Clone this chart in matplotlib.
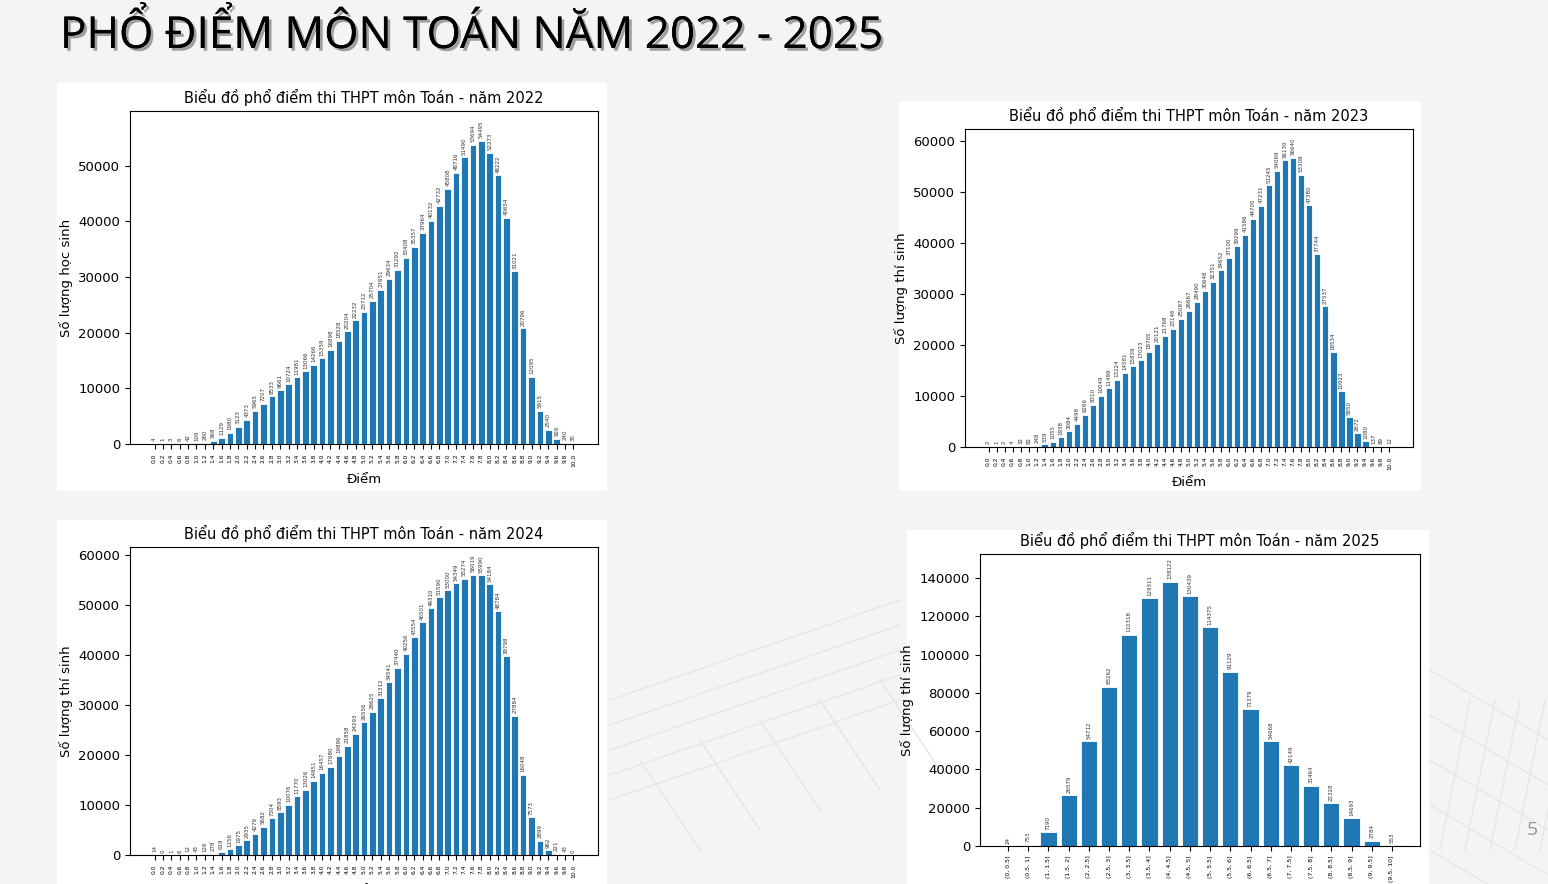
import matplotlib
matplotlib.use("Agg")
import matplotlib.pyplot as plt
import matplotlib.patheffects as pe
from matplotlib.patches import Rectangle

scores = [f"{i/5:.1f}" for i in range(51)]

v2022 = [4, 1, 3, 6, 42, 109, 260, 568, 1129, 1980, 3123, 4373, 5965, 7207, 8533, 9661,
         10724, 11981, 13066, 14266, 15359, 16898, 18528, 20204, 22232, 23712, 25704,
         27651, 29634, 31292, 33408, 35357, 37964, 40132, 42732, 45808, 48716, 51490,
         53694, 54495, 52273, 48222, 40654, 31021, 20796, 12095, 5915, 2540, 926, 240, 35]
v2023 = [2, 1, 2, 4, 32, 82, 248, 539, 1055, 1938, 3084, 4498, 6266, 8310, 10049, 11499,
         13224, 14581, 15839, 17023, 18705, 20121, 21768, 23146, 25087, 26667, 28490,
         30648, 32351, 34652, 37100, 39299, 41586, 44705, 47231, 51245, 54069, 56130,
         56640, 53308, 47380, 37744, 27537, 18534, 10923, 5850, 2672, 1080, 137, 89, 12]
v2024 = [14, 0, 1, 6, 12, 43, 126, 278, 619, 1156, 1975, 2935, 4279, 5682, 7304, 8593,
         10076, 11770, 13026, 14851, 16457, 17680, 19896, 21858, 24293, 26556, 28625,
         31312, 34541, 37440, 40256, 43554, 46501, 49310, 51590, 53000, 54349, 55274,
         56019, 55990, 54184, 48784, 39798, 27884, 16048, 7573, 2899, 962, 221, 43, 0]
bins2025 = ["(0, 0.5]", "(0.5, 1]", "(1, 1.5]", "(1.5, 2]", "(2, 2.5]", "(2.5, 3]",
            "(3, 3.5]", "(3.5, 4]", "(4, 4.5]", "(4.5, 5]", "(5, 5.5]", "(5.5, 6]",
            "(6, 6.5]", "(6.5, 7]", "(7, 7.5]", "(7.5, 8]", "(8, 8.5]", "(8.5, 9]",
            "(9, 9.5]", "(9.5, 10]"]
v2025 = [24, 753, 7190, 26579, 54712, 83262, 110318, 129311, 138122, 130439, 114375,
         91129, 71379, 54668, 42149, 31464, 22328, 14693, 2784, 553]

W, H = 1548, 884
fig = plt.figure(figsize=(W/100, H/100), dpi=100)
fig.patch.set_facecolor("#f4f4f4")

def frac(x0, y0, x1, y1):
    return [x0/W, 1-y1/H, (x1-x0)/W, (y1-y0)/H]

bg = fig.add_axes([0, 0, 1, 1], zorder=-5)
bg.set_xlim(0, W); bg.set_ylim(H, 0); bg.axis("off")
for k in range(5):
    bg.plot([610, 900], [800-k*25, 700-k*25], color="#e8e8e8", lw=1.2)
    bg.plot([640+k*60, 700+k*60], [760-k*20, 850-k*20], color="#e8e8e8", lw=1.2)
    bg.plot([1430, 1548], [670+k*45, 740+k*45], color="#e8e8e8", lw=1.2)
    bg.plot([1440+k*25, 1470+k*25], [850, 700], color="#e8e8e8", lw=1.2)

fig.text(60/W, 1-36/H, "PHỔ ĐIỂM MÔN TOÁN NĂM 2022 - 2025", fontsize=31.7,
         family="Open Sans", va="center", ha="left", color="black",
         path_effects=[pe.withSimplePatchShadow(offset=(2, -2), alpha=0.35), pe.Normal()])
fig.text(1532/W, 1-830/H, "5", fontsize=14, color="#999999", ha="center", va="center",
         family="Open Sans")

def panel(rect, axrect, cats, vals, year, ylabel, ymax, xfs, lfs):
    bg.add_patch(Rectangle((rect[0], rect[1]), rect[2]-rect[0], rect[3]-rect[1],
                           facecolor="white", edgecolor="none"))
    ax = fig.add_axes(frac(*axrect))
    x = range(len(vals))
    bars = ax.bar(x, vals, color="#1f77b4", edgecolor="white", linewidth=0.6, width=0.8)
    for b, v in zip(bars, vals):
        ax.text(b.get_x()+b.get_width()/2, v + ymax*0.008, str(v), rotation=90,
                ha="center", va="bottom", fontsize=lfs, color="#333333")
    ax.set_xticks(list(x))
    ax.set_xticklabels(cats, rotation=90, fontsize=xfs)
    ax.set_ylim(0, ymax)
    ax.tick_params(axis="y", labelsize=9.5)
    ax.set_title(f"Biểu đồ phổ điểm thi THPT môn Toán - năm {year}", fontsize=10.5)
    ax.set_xlabel("Điểm", fontsize=9.5)
    ax.set_ylabel(ylabel, fontsize=9.5)
    return ax

panel((57, 83, 607, 491), (130, 111, 598, 444), scores, v2022, 2022, "Số lượng học sinh", 59800, 4.3, 4)
panel((899, 101, 1421, 491), (965, 129, 1413, 447), scores, v2023, 2023, "Số lượng thí sinh", 62300, 4.3, 4)
panel((57, 520, 607, 884), (130, 547, 598, 855), scores, v2024, 2024, "Số lượng thí sinh", 61600, 4.3, 4)
panel((907, 530, 1429, 884), (980, 554, 1420, 846), bins2025, v2025, 2025, "Số lượng thí sinh", 152500, 4.5, 4)

fig.savefig("out.png", dpi=100, facecolor=fig.get_facecolor())
